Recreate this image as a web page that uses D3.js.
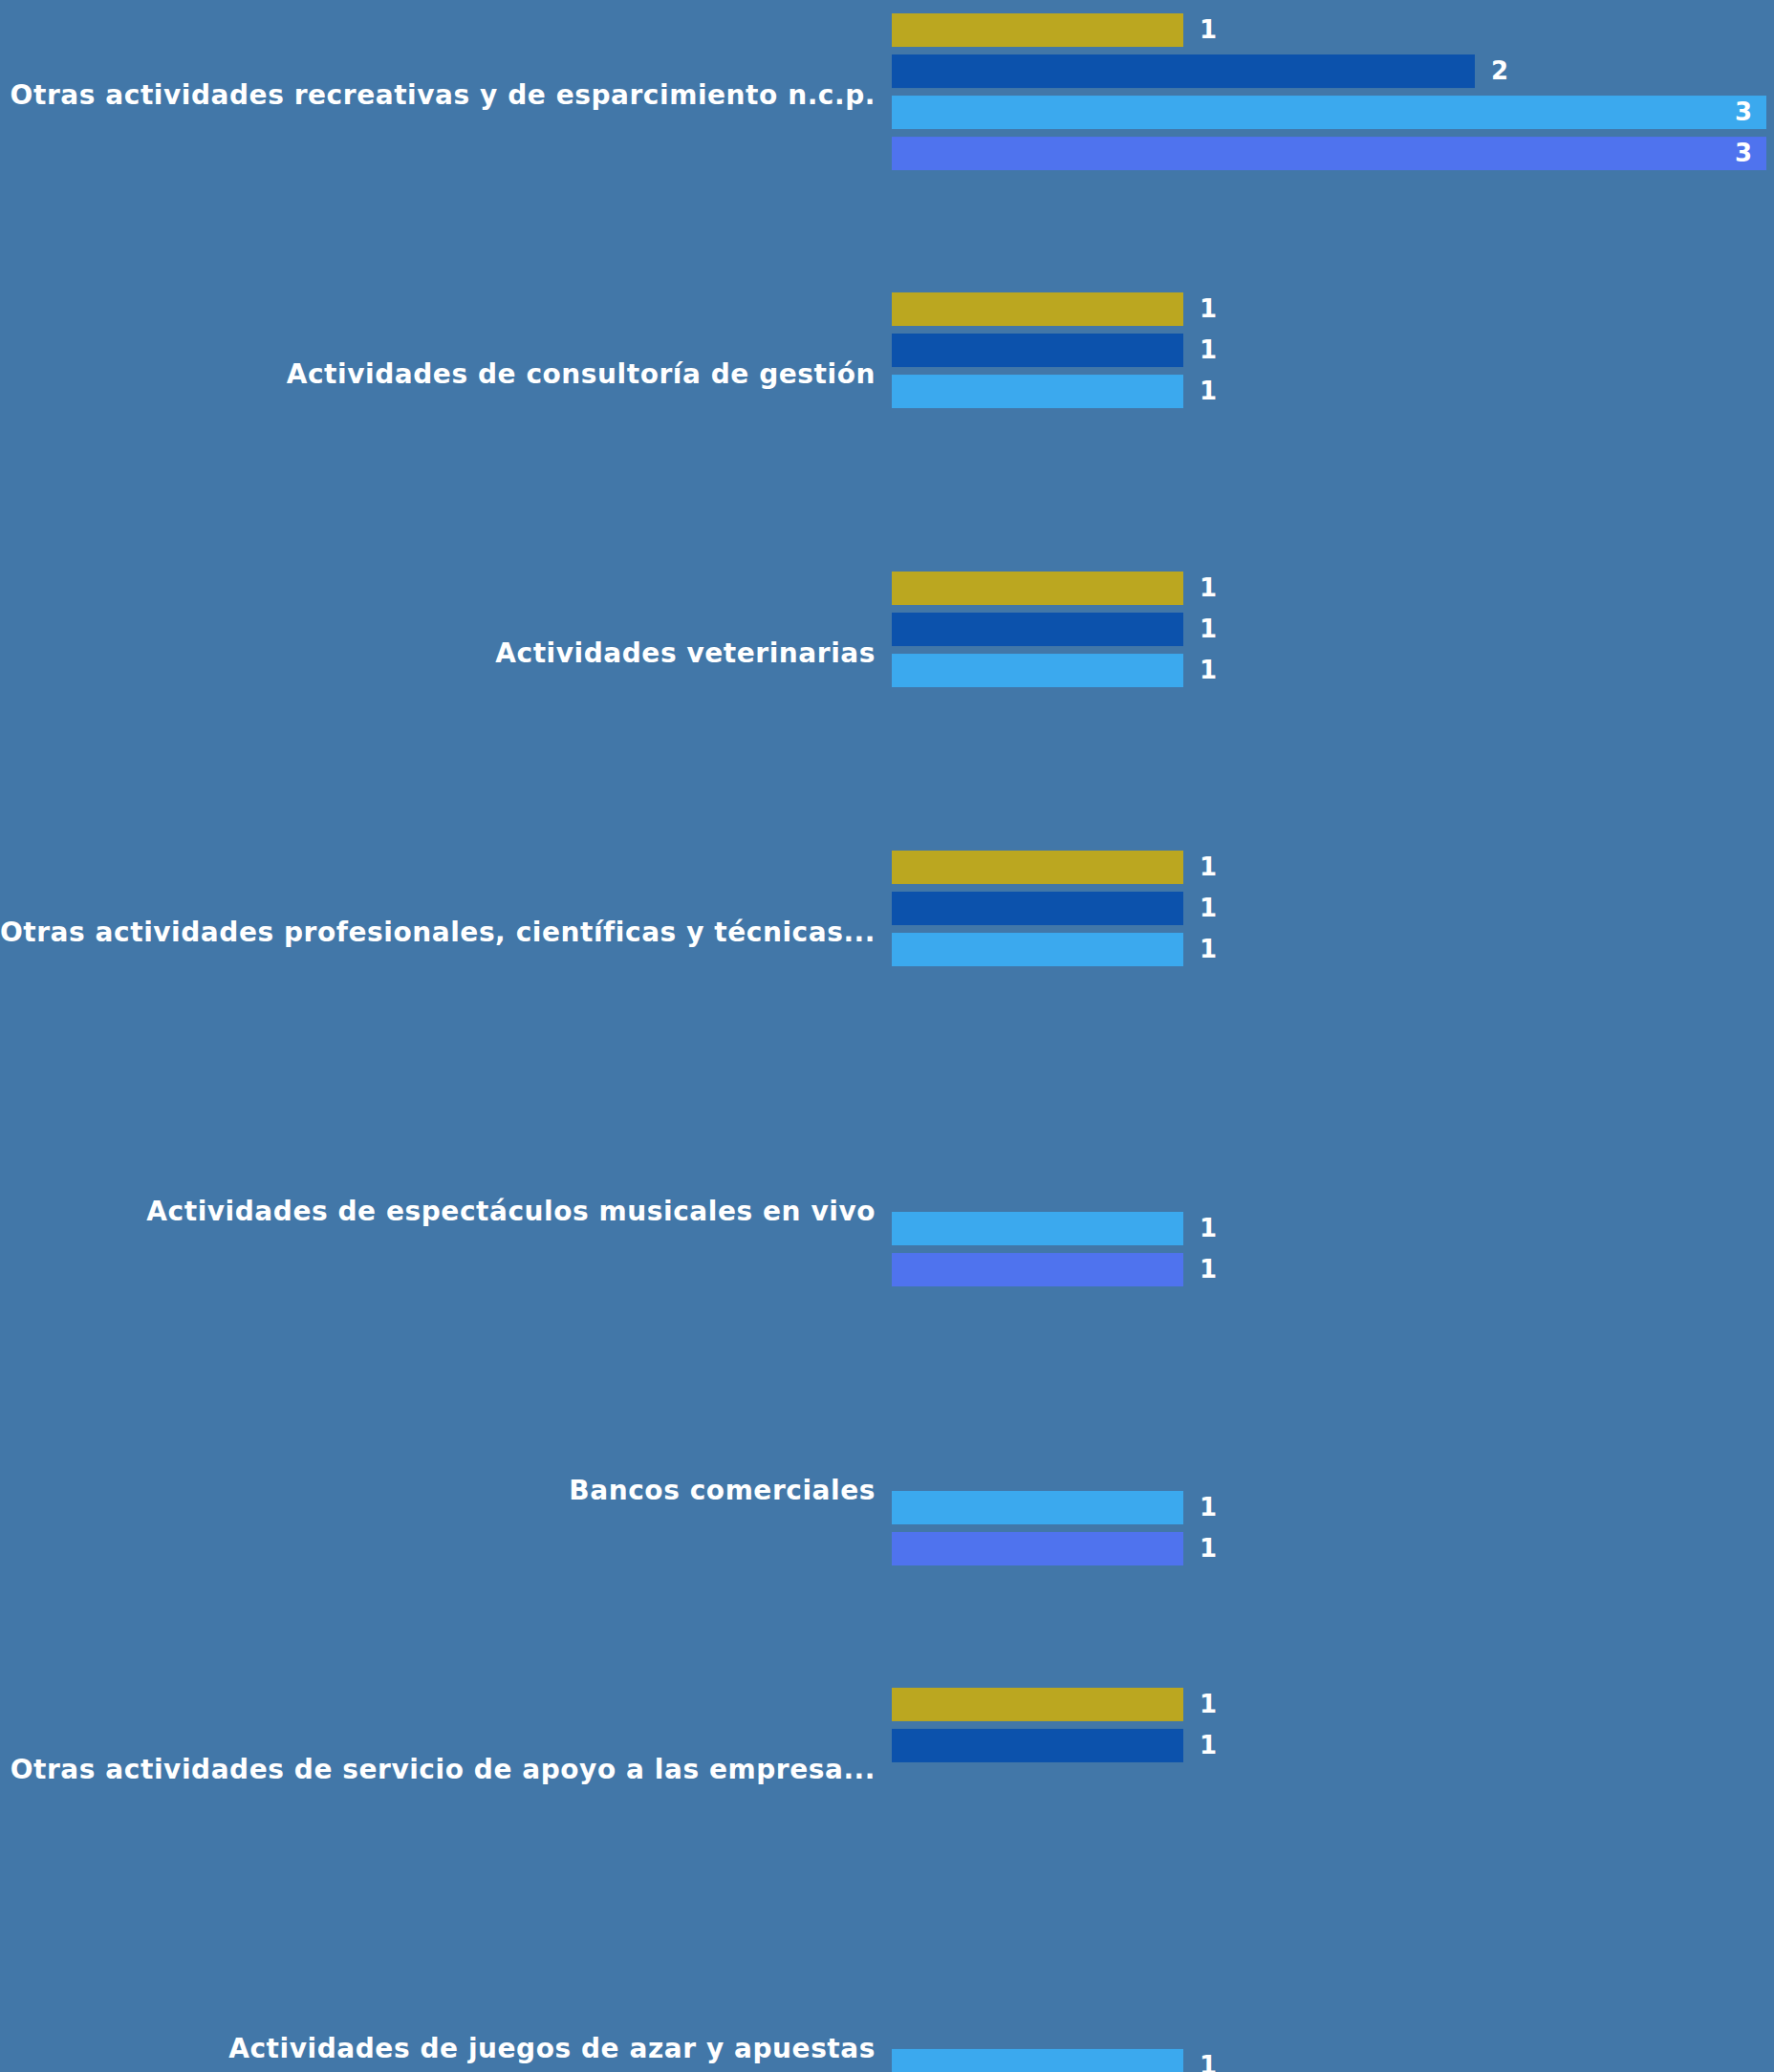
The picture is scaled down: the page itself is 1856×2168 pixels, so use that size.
<!DOCTYPE html>
<html>
<head>
<meta charset="utf-8">
<script src="https://cdn.jsdelivr.net/npm/d3@7"></script>
<style>
  body { margin: 0; background: #4277a8; }
  svg { display: block; }
</style>
</head>
<body>
<svg id="drawing_region"></svg>
<script>
const categories = [
    "Otras actividades recreativas y de esparcimiento n.c.p.",
    "Actividades de consultoría de gestión",
    "Actividades veterinarias",
    "Otras actividades profesionales, científicas y técnicas...",
    "Actividades de espectáculos musicales en vivo",
    "Bancos comerciales",
    "Otras actividades de servicio de apoyo a las empresa...",
    "Actividades de juegos de azar y apuestas"
];
const series = ["serie1", "serie2", "serie3", "serie4"];
const colors = ["#bba720", "#0c52ac", "#3ba9ee", "#4f73ee"];
const serie1 = [1, 1, 1, 1, null, null, 1, null];
const serie2 = [2, 1, 1, 1, null, null, 1, null];
const serie3 = [3, 1, 1, 1, 1, 1, null, 1];
const serie4 = [3, null, null, null, 1, 1, null, null];

const values = [serie1, serie2, serie3, serie4];

const width = 1856, height = 2168;
const margin = {top: 14, left: 933, right: 8};
const step = 292;

const svg = d3.select('#drawing_region')
    .attr('width', width)
    .attr('height', height);

svg.append('rect')
    .attr('width', width)
    .attr('height', height)
    .attr('fill', '#4277a8');

const xmax = d3.max(values, s => d3.max(s));
const xscale = d3.scaleLinear()
    .domain([0, xmax])
    .range([margin.left, width - margin.right]);

const yscale = d3.scaleBand()
    .domain(categories)
    .range([margin.top, margin.top + (categories.length - 1) * step + 164])
    .paddingInner(0.438)
    .paddingOuter(0);

const yinner = d3.scaleBand()
    .domain(series)
    .range([0, yscale.bandwidth()])
    .paddingInner(0.186)
    .paddingOuter(0);

const color = d3.scaleOrdinal().domain(series).range(colors);

const rows = [];
categories.forEach((c, i) => {
    series.forEach((s, j) => {
        const v = values[j][i];
        if (v != null) rows.push({cat: c, serie: s, value: v});
    });
});

const font = "Verdana, 'DejaVu Sans', sans-serif";

const groups = svg.selectAll('g.cat')
    .data(categories)
    .enter()
    .append('g')
    .attr('class', 'cat')
    .attr('transform', d => `translate(0, ${yscale(d)})`);

groups.append('text')
    .attr('x', margin.left - 17)
    .attr('y', yscale.bandwidth() / 2)
    .attr('dy', '0.45em')
    .attr('text-anchor', 'end')
    .attr('fill', 'white')
    .attr('font-family', font)
    .attr('font-size', '28px')
    .attr('font-weight', 'bold')
    .attr('letter-spacing', '0.56px')
    .text(d => d);

const bars = svg.selectAll('g.bar')
    .data(rows)
    .enter()
    .append('g')
    .attr('class', 'bar')
    .attr('transform', d => `translate(0, ${yscale(d.cat) + yinner(d.serie)})`);

bars.append('rect')
    .attr('x', xscale(0))
    .attr('y', 0)
    .attr('width', d => xscale(d.value) - xscale(0))
    .attr('height', yinner.bandwidth())
    .attr('fill', d => color(d.serie));

bars.append('text')
    .attr('x', d => d.value === xmax ? xscale(d.value) - 15 : xscale(d.value) + 17)
    .attr('y', yinner.bandwidth() / 2)
    .attr('dy', '0.33em')
    .attr('text-anchor', d => d.value === xmax ? 'end' : 'start')
    .attr('fill', 'white')
    .attr('font-family', font)
    .attr('font-size', '26px')
    .attr('font-weight', 'bold')
    .text(d => d.value);
</script>
</body>
</html>
